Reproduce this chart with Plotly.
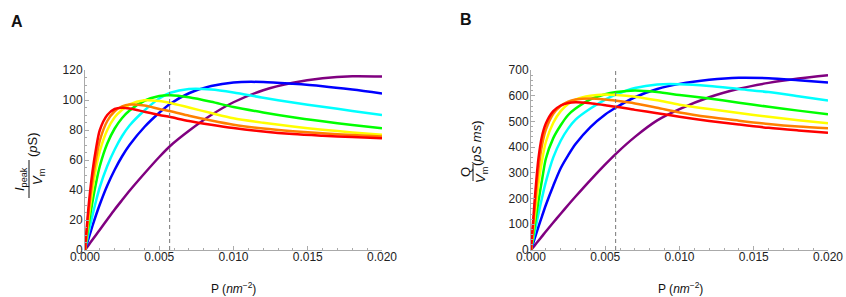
import plotly.graph_objects as go

# Pressure grid (nm^-2)
P = [0, 0.00025, 0.0005, 0.00075, 0.001, 0.0015, 0.002, 0.0025, 0.003, 0.004,
     0.005, 0.00575, 0.007, 0.0085, 0.01, 0.012, 0.014, 0.016, 0.018, 0.02]

# Panel A: I_peak / V_m (pS)
a_red    = [0, 30, 52, 68, 80, 90, 94, 94.8, 94.3, 92.2, 90, 88.6, 86, 83.5, 81.3, 79, 77.3, 76.2, 75.3, 74.5]
a_orange = [0, 26, 46, 61, 73, 86, 92.5, 95.8, 97, 96.3, 94, 92.5, 89.5, 86.3, 83.5, 81, 79.2, 77.8, 76.7, 75.6]
a_yellow = [0, 22, 40, 55, 66, 80, 88.5, 93.5, 97, 99.8, 99.3, 98, 95, 91.3, 87.8, 84.8, 82.3, 80.2, 78.4, 76.8]
a_green  = [0, 17, 32, 45, 56, 71, 81, 88, 93, 99.5, 102.7, 103.2, 101.8, 98.8, 95.3, 91.7, 88.5, 85.8, 83.3, 81.1]
a_cyan   = [0, 12, 23, 33, 42, 56, 67, 76, 83, 93, 101, 104.8, 107.3, 107, 105, 101.5, 98.3, 95.5, 92.7, 90]
a_blue   = [0, 8, 16, 23.5, 30.5, 43, 53.5, 62.5, 70, 82, 91.5, 97.5, 104.5, 109.3, 111.7, 112, 110.8, 109.2, 107, 104.4]
a_purple = [0, 3.4, 6.8, 10.2, 13.5, 20.3, 27, 33.3, 39.5, 51, 62, 69.5, 79.5, 90, 98.5, 106.5, 111.5, 114.5, 115.8, 115.6]

# Panel B: Q / V_m (pS ms)
b_red    = [0, 195, 355, 445, 492, 540, 562, 572, 575, 571, 563, 557, 545, 532, 518, 502, 488, 475, 465, 456]
b_orange = [0, 165, 315, 410, 468, 530, 560, 577, 585, 589, 585, 580, 570, 553, 535, 517, 503, 490, 480, 473]
b_yellow = [0, 130, 255, 350, 420, 495, 540, 568, 585, 600, 605, 603, 596, 582, 565, 548, 533, 518, 505, 493]
b_green  = [0, 95, 190, 275, 355, 435, 485, 525, 550, 586, 606, 614, 620, 614, 603, 589, 573, 557, 542, 528]
b_cyan   = [0, 70, 140, 205, 265, 360, 425, 472, 507, 550, 585, 605, 630, 644, 645, 638, 626, 614, 598, 581]
b_blue   = [0, 45, 90, 133, 175, 250, 318, 368, 412, 478, 527, 555, 594, 626, 646, 662, 670, 668, 660, 651]
b_purple = [0, 18, 36, 54, 72, 107, 141, 175, 208, 272, 333, 376, 440, 504, 548, 594, 627, 650, 667, 680]

P_marker = 0.0057
x_ticks = [0, 0.005, 0.01, 0.015, 0.02]
a_ticks = [0, 20, 40, 60, 80, 100, 120]
b_ticks = [0, 100, 200, 300, 400, 500, 600, 700]

colors = ["#800080", "#0000FF", "#00FFFF", "#00FF00", "#FFFF00", "#FF8000", "#FF0000"]
series_a = [a_purple, a_blue, a_cyan, a_green, a_yellow, a_orange, a_red]
series_b = [b_purple, b_blue, b_cyan, b_green, b_yellow, b_orange, b_red]

W, H = 846, 297
def px(x): return x / W
def py(y): return 1 - y / H

fig = go.Figure()
for ys, c in zip(series_a, colors):
    fig.add_trace(go.Scatter(x=P, y=ys, mode="lines", xaxis="x", yaxis="y",
                             line=dict(color=c, width=2.5, shape="spline", smoothing=0.8),
                             showlegend=False, hoverinfo="skip"))
for ys, c in zip(series_b, colors):
    fig.add_trace(go.Scatter(x=P, y=ys, mode="lines", xaxis="x2", yaxis="y2",
                             line=dict(color=c, width=2.5, shape="spline", smoothing=0.8),
                             showlegend=False, hoverinfo="skip"))

# dashed marker lines
fig.add_trace(go.Scatter(x=[P_marker, P_marker], y=[0, 120], mode="lines", xaxis="x", yaxis="y",
                         line=dict(color="#777777", width=1, dash="4px,3px"), showlegend=False, hoverinfo="skip"))
fig.add_trace(go.Scatter(x=[P_marker, P_marker], y=[0, 700], mode="lines", xaxis="x2", yaxis="y2",
                         line=dict(color="#777777", width=1, dash="4px,3px"), showlegend=False, hoverinfo="skip"))

font = dict(family="Liberation Sans, Arial, sans-serif", size=12, color="#222222")
axcol = "#AAAAAA"

def xaxis(domain, anchor):
    return dict(domain=domain, anchor=anchor, range=[0, 0.02], tickvals=x_ticks,
                tickformat=".3f", ticks="inside", ticklen=4, tickcolor=axcol, tickwidth=1,
                minor=dict(dtick=0.001, ticks="inside", ticklen=2, tickcolor=axcol),
                showline=True, linecolor=axcol, linewidth=1, showgrid=False, zeroline=False,
                tickfont=font, fixedrange=True, automargin=False, ticklabelstandoff=-4)

def yaxis(domain, anchor, rng, tv, minor):
    return dict(domain=domain, anchor=anchor, range=rng, tickvals=tv,
                ticks="inside", ticklen=4, tickcolor=axcol, tickwidth=1,
                minor=dict(dtick=minor, ticks="inside", ticklen=2, tickcolor=axcol),
                showline=True, linecolor=axcol, linewidth=1, showgrid=False, zeroline=False,
                tickfont=font, fixedrange=True, automargin=False, ticklabelstandoff=-1)

ydom = [py(250), py(70)]
fig.update_layout(
    width=W, height=H, margin=dict(l=0, r=0, t=0, b=0, autoexpand=False),
    paper_bgcolor="white", plot_bgcolor="white", font=font,
    xaxis=xaxis([px(85), px(382)], "y"),
    yaxis=yaxis(ydom, "x", [0, 120], a_ticks, 5),
    xaxis2=xaxis([px(531), px(828)], "y2"),
    yaxis2=yaxis(ydom, "x2", [0, 700], b_ticks, 20),
)

ann = []
def txt(x, y, t, size=12, angle=0, bold=False):
    ann.append(dict(x=px(x), y=py(y), xref="paper", yref="paper", text=("<b>%s</b>" % t) if bold else t,
                    showarrow=False, textangle=angle, xanchor="center", yanchor="middle",
                    font=dict(family="Liberation Sans, Arial, sans-serif", size=size, color="#111111")))

txt(17, 21, "A", 16, bold=True)
txt(466, 19, "B", 16, bold=True)
txt(233, 288, "P (<i>nm</i><sup>−2</sup>)", 12)
txt(680, 288, "P (<i>nm</i><sup>−2</sup>)", 12)
# y-title A as a fraction
txt(20, 179, "<i>I</i><sub>peak</sub>", 13, angle=-90)
txt(39, 177, "<i>V</i><sub>m</sub>", 13, angle=-90)
txt(32, 145, "(<i>p</i>S)", 13, angle=-90)
# y-title B
txt(465, 172, "Q", 13, angle=-90)
txt(481, 175, "<i>V</i><sub>m</sub>", 13, angle=-90)
txt(477, 143, "(<i>pS ms</i>)", 13, angle=-90)
fig.update_layout(annotations=ann)

fig.update_layout(shapes=[
    dict(type="line", xref="paper", yref="paper", x0=px(29), x1=px(29), y0=py(160), y1=py(198),
         line=dict(color="#111111", width=1)),
    dict(type="line", xref="paper", yref="paper", x0=px(473), x1=px(473), y0=py(164), y1=py(181),
         line=dict(color="#111111", width=1)),
])

fig.write_html("out.html", config={"displayModeBar": False},
               post_script="document.body.style.margin='0px';document.body.style.padding='0px';document.body.style.overflow='hidden';")
